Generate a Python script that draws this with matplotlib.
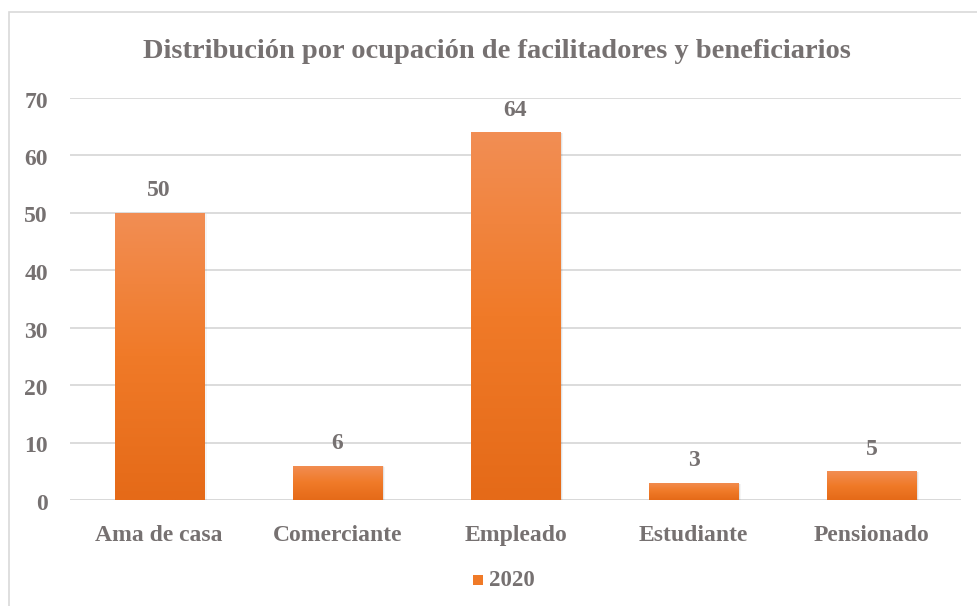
import matplotlib
matplotlib.use("Agg")
import matplotlib.pyplot as plt
import numpy as np
from matplotlib.colors import LinearSegmentedColormap
from matplotlib.patches import Rectangle
from matplotlib.transforms import ScaledTranslation

categories = ["Ama de casa", "Comerciante", "Empleado", "Estudiante", "Pensionado"]
values = [50, 6, 64, 3, 5]
series_name = "2020"
title = "Distribución por ocupación de facilitadores y beneficiarios"
yticks = [0, 10, 20, 30, 40, 50, 60, 70]

txt = "#767171"
plt.rcParams['font.family'] = ['Liberation Serif', 'DejaVu Serif']
plt.rcParams['font.weight'] = 'bold'

fig = plt.figure(figsize=(9.77, 6.06), dpi=100)
# chart border
fig.patches.append(Rectangle((9/977, -0.05), 1.2, 1.05 - 12/606, transform=fig.transFigure,
                             fill=False, edgecolor="#D9D9D9", linewidth=1.2))

ax = fig.add_axes([70/977, 1 - 500/606, (961-70)/977, (500-97.5)/606])
ax.set_xlim(-0.5, len(categories) - 0.5)
ax.set_ylim(0, 70)

cmap = LinearSegmentedColormap.from_list("g", ["#F28E54", "#F07A28", "#E56A18"])
grad = np.linspace(0, 1, 256).reshape(-1, 1)
x = np.arange(len(categories))
bw = 0.5
bars = ax.bar(x, values, width=bw, color="#F07A28", zorder=3)
for b, v in zip(bars, values):
    # shadow
    for k, a in enumerate([0.10, 0.07, 0.04]):
        ax.add_patch(Rectangle((b.get_x() + 0.004 + k*0.006, 0), b.get_width(), v - 0.1 - k*0.05,
                               facecolor="#000000", alpha=a, edgecolor="none", zorder=2.5 - k*0.1))
    im = ax.imshow(grad, cmap=cmap, aspect="auto", zorder=3.1,
                   extent=(b.get_x(), b.get_x() + b.get_width(), 0, v), origin="upper")
    im.set_clip_path(b)
    ax.text(b.get_x() + b.get_width()/2, v + 2.0, str(v), ha="center", va="bottom",
            fontsize=17, color=txt, fontweight="bold", zorder=4)

ax.set_xlim(-0.5, len(categories) - 0.5)
ax.set_ylim(0, 70)
ax.set_yticks(yticks)
ax.set_yticklabels([str(t) for t in yticks])
ax.set_xticks(x)
ax.set_xticklabels(categories)
ax.yaxis.grid(True, color="#D9D9D9", linewidth=1.3, zorder=0)
ax.set_axisbelow(True)
for s in ax.spines.values():
    s.set_visible(False)
ax.axhline(0, color="#D9D9D9", linewidth=1.3, zorder=1)
ax.tick_params(axis="both", length=0, labelsize=17, labelcolor=txt)
ax.tick_params(axis="y", pad=16)
ax.tick_params(axis="x", pad=18)
shift = ScaledTranslation(0, -2/100, fig.dpi_scale_trans)
for lab in ax.get_yticklabels():
    lab.set_fontweight("bold")
    lab.set_transform(lab.get_transform() + shift)
for lab in ax.get_xticklabels():
    lab.set_fontweight("bold")

fig.text(497/977, 1 - 51/606, title, ha="center", va="center", fontsize=20.5,
         color=txt, fontweight="bold")

# legend
fig.patches.append(Rectangle((473/977, 1 - 585/606), 10/977, 10/606, transform=fig.transFigure,
                             facecolor="#F07A28", edgecolor="none"))
fig.text(489/977, 1 - 580/606, series_name, ha="left", va="center", fontsize=16.5,
         color=txt, fontweight="bold")

fig.savefig("out.png", dpi=100)
